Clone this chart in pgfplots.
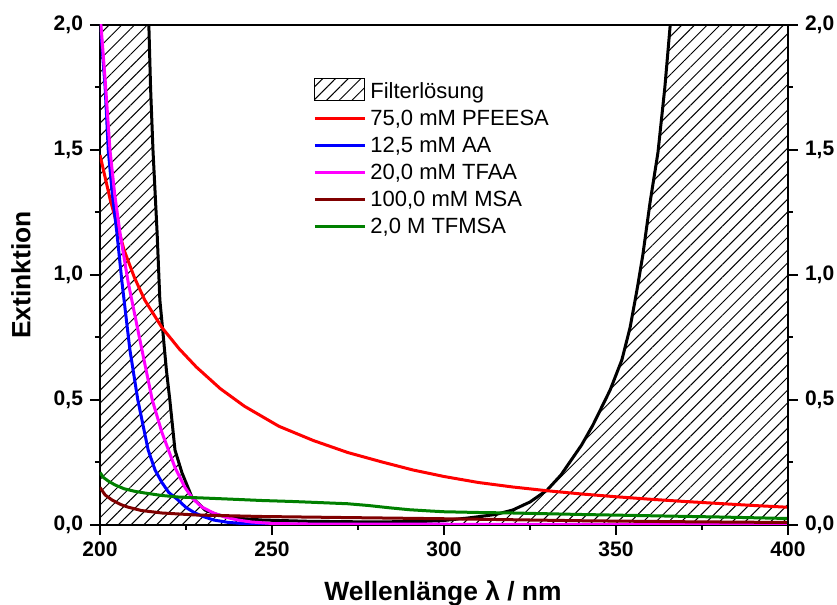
\documentclass[border=0pt]{standalone}
\usepackage{fontspec}
\setmainfont{Liberation Sans}
\usepackage{pgfplots}
\pgfplotsset{compat=1.18}
\usetikzlibrary{patterns.meta}
\definecolor{cRed}{RGB}{255,0,0}
\definecolor{cBlue}{RGB}{0,0,255}
\definecolor{cMag}{RGB}{255,0,255}
\definecolor{cDRed}{RGB}{128,0,0}
\definecolor{cGreen}{RGB}{0,128,0}
\pgfplotsset{
  common/.style={
    at={(0,0)}, anchor=south west, scale only axis,
    width=344pt, height=250pt,
    xmin=200, xmax=400, ymin=0, ymax=2,
    ytick={0,0.5,...,2}, minor y tick num=1,
    tick align=outside, major tick length=5pt, minor tick length=2.5pt,
    every tick/.style={black, line width=1pt},
    axis line style={line width=1pt},
    /pgf/number format/assume math mode=true,
    ticklabel style={font=\bfseries\fontsize{10.5}{12}\selectfont},
    yticklabel style={/pgf/number format/.cd, fixed, fixed zerofill, precision=1, use comma},
  },
  linelegend/.style={legend image code/.code={\draw[##1] (0pt,0.45pt) -- (25pt,0.45pt);}},
}
\begin{document}
\begin{tikzpicture}
\useasboundingbox (-50pt,-40pt) rectangle (368.5pt,262.5pt);
\begin{axis}[common,
  xtick={200,250,...,400}, minor x tick num=1,
  xtick pos=left, ytick pos=left,
  xticklabel style={/pgf/number format/.cd, fixed, 1000 sep={}},
  xlabel={Wellenlänge λ / nm},
  ylabel={Extinktion},
  xlabel style={font=\bfseries\fontsize{13.2}{16}\selectfont, at={(axis description cs:0.4985,-0.1514)}, anchor=base},
  ylabel style={font=\bfseries\fontsize{13.2}{16}\selectfont, at={(axis description cs:-0.1148,0.5)}, anchor=center},
  legend style={at={(axis description cs:0.3096,0.894)}, anchor=north west, draw=none, fill=none,
    inner sep=0pt, row sep=0pt, font=\fontsize{11}{13}\selectfont,
    nodes={inner xsep=2pt, inner ysep=0pt, text height=9.8pt, text depth=3.7pt}},
  legend cell align=left,
]
% Filter solution (hatched area)
\addplot[draw=none, pattern={Lines[angle=45,distance=4.5pt,line width=0.5pt]}, pattern color=black,
  legend image code/.code={\draw[pattern={Lines[angle=45,distance=4.5pt,line width=0.5pt]}, pattern color=black, draw=black, line width=0.5pt] (0pt,-4.25pt) rectangle (25pt,6.6pt);}]
coordinates {(200,12)(205,8)(210,4.2)(212,3.0)(213,2.5)(214.2,2.0)(214.7,1.75)(215.4,1.5)(216.6,1.17)(217.4,0.9)(218.3,0.77)(219.3,0.62)(220.3,0.5)(221.8,0.30)(223.8,0.21)(226.7,0.112)(230.5,0.06)(234,0.042)(237,0.032)(242,0.025)(247,0.02)(260,0.015)(280,0.012)(295,0.015)(300,0.018)(307,0.028)(315,0.042)(320,0.06)(325,0.092)(330,0.14)(334,0.20)(337.5,0.27)(340,0.32)(343.3,0.40)(348.3,0.54)(351.7,0.66)(354.1,0.79)(356.1,0.94)(357.8,1.08)(359.9,1.29)(362.2,1.49)(364.2,1.75)(365.7,1.99)(367,2.2)(370,2.7)(380,4.5)(400,9)} \closedcycle;
\addlegendentry{Filterlösung}
\addplot[black, line width=1.5pt, forget plot]
coordinates {(200,12)(205,8)(210,4.2)(212,3.0)(213,2.5)(214.2,2.0)(214.7,1.75)(215.4,1.5)(216.6,1.17)(217.4,0.9)(218.3,0.77)(219.3,0.62)(220.3,0.5)(221.8,0.30)(223.8,0.21)(226.7,0.112)(230.5,0.06)(234,0.042)(237,0.032)(242,0.025)(247,0.02)(260,0.015)(280,0.012)(295,0.015)(300,0.018)(307,0.028)(315,0.042)(320,0.06)(325,0.092)(330,0.14)(334,0.20)(337.5,0.27)(340,0.32)(343.3,0.40)(348.3,0.54)(351.7,0.66)(354.1,0.79)(356.1,0.94)(357.8,1.08)(359.9,1.29)(362.2,1.49)(364.2,1.75)(365.7,1.99)(367,2.2)(370,2.7)(380,4.5)(400,9)};
% PFEESA
\addplot[cRed, line width=1.5pt, linelegend]
coordinates {(200,1.48)(201.5,1.39)(203,1.30)(205,1.20)(207,1.10)(210,0.99)(213,0.90)(218,0.79)(223,0.705)(228,0.632)(235,0.545)(242,0.475)(252,0.395)(262,0.338)(272,0.29)(282,0.252)(291,0.220)(300,0.194)(310,0.170)(320,0.152)(330,0.137)(340,0.124)(350,0.113)(360,0.103)(370,0.094)(380,0.086)(390,0.078)(400,0.071)};
\addlegendentry{75,0 mM PFEESA}
% AA
\addplot[cBlue, line width=1.5pt, linelegend]
coordinates {(200,2.02)(201.5,1.75)(202.4,1.50)(203.6,1.32)(204.9,1.17)(206.4,0.97)(208.7,0.70)(211,0.50)(214,0.30)(216,0.22)(218,0.17)(220,0.13)(222.7,0.10)(225,0.07)(227.6,0.048)(230,0.034)(233,0.02)(237,0.011)(242,0.005)(250,0.003)(300,0.002)(400,0.001)};
\addlegendentry{12,5 mM AA}
% TFAA
\addplot[cMag, line width=1.5pt, linelegend]
coordinates {(200,2.05)(201.5,1.78)(202.9,1.50)(204.3,1.32)(205.8,1.17)(208.2,0.97)(212.2,0.70)(215.2,0.50)(218,0.37)(221.8,0.23)(224.7,0.15)(227,0.105)(229.6,0.072)(233,0.048)(236.3,0.032)(240,0.02)(244,0.012)(250,0.006)(260,0.004)(300,0.003)(400,0.002)};
\addlegendentry{20,0 mM TFAA}
% MSA
\addplot[cDRed, line width=1.5pt, linelegend]
coordinates {(200,0.15)(201.5,0.12)(203.5,0.10)(206,0.082)(208,0.072)(212,0.058)(218,0.048)(228,0.040)(247,0.034)(270,0.030)(300,0.025)(340,0.017)(370,0.013)(400,0.010)};
\addlegendentry{100,0 mM MSA}
% TFMSA
\addplot[cGreen, line width=1.5pt, linelegend]
coordinates {(200,0.21)(201,0.19)(202.5,0.175)(204.4,0.16)(207,0.145)(210,0.135)(213,0.128)(218,0.118)(222.7,0.112)(230,0.108)(237,0.104)(247,0.098)(256,0.094)(265,0.089)(272,0.085)(278,0.078)(284,0.069)(290,0.061)(296,0.056)(300,0.053)(310,0.05)(320,0.048)(340,0.042)(360,0.037)(380,0.032)(400,0.026)};
\addlegendentry{2,0 M TFMSA}
\end{axis}
\begin{axis}[common,
  axis x line=none, axis y line*=right,
  ytick pos=right, yticklabel pos=right,
  axis line style={-, line width=1pt},
]
\addplot[draw=none] coordinates {(200,0)};
\end{axis}
\end{tikzpicture}
\end{document}
